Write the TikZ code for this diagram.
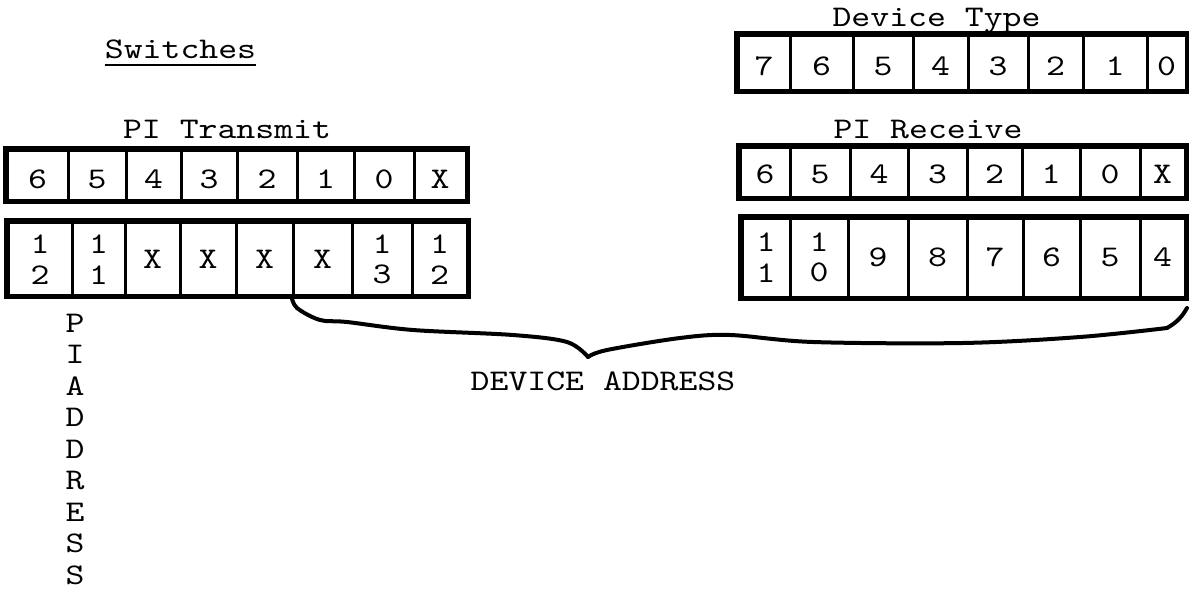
\documentclass[tikz,border=0pt]{standalone}
\usepackage{fontspec}
\newfontfamily\tw{lmmono10-regular}[Extension=.otf, FakeStretch=1.2]
\begin{document}
\begin{tikzpicture}[x=1pt,y=-1pt,
  cell/.style={draw, line width=3pt, inner sep=0pt},
  outer/.style={draw, line width=5pt, line join=miter},
  lbl/.style={inner sep=0pt, font={\tw\fontsize{30}{30}\selectfont}},
  stack/.style={inner sep=0pt, align=center, font={\tw\fontsize{30}{30.5}\selectfont}},
  brace/.style={line width=4pt, line cap=round, line join=round}]
\useasboundingbox (0,0) rectangle (1189,589);

% titles
\node[lbl, anchor=base] (sw) at (180.5,58) {Switches};
\draw[line width=2pt] ([yshift=-7pt]sw.base west) -- ([yshift=-7pt]sw.base east);
\node[lbl, anchor=base] (pit) at (227,138) {PI Transmit};
\node[lbl, anchor=base] (dt) at (936.5,27) {Device Type};
\node[lbl, anchor=base] (pir) at (928,138) {PI Receive};
\node[lbl, anchor=base] (da) at (603,390) {DEVICE ADDRESS};

% PI Transmit, upper row
\foreach \xa/\xb/\t [count=\i] in {7/68/6,68/126/5,126/181/4,181/237/3,237/297/2,297/354/1,354/414/0,414/466/X}
  {\node[cell, minimum width={(\xb-\xa)*1pt}, minimum height=50pt] (ta\i) at ({(\xa+\xb)/2},175) {};
   \node[lbl] (tal\i) at ([yshift=-4pt]ta\i.center) {\t};}
\draw[outer] (ta1.north west) rectangle (ta8.south east);

% PI Transmit, lower row
\foreach \xa/\xb/\t [count=\i] in {8/72/1\\2,72/125/1\\1,125/180/X,180/236/X,236/293/X,293/352/X,352/412/1\\3,412/467/1\\2}
  {\node[cell, minimum width={(\xb-\xa)*1pt}, minimum height=73pt] (tb\i) at ({(\xa+\xb)/2},258.5) {};
   \node[stack] (tbl\i) at ([yshift=-1pt]tb\i.center) {\t};}
\draw[outer] (tb1.north west) rectangle (tb8.south east);

% Device Type row
\foreach \xa/\xb/\t [count=\i] in {738/790/7,790/853/6,853/913/5,913/968/4,968/1028/3,1028/1083/2,1083/1147/1,1147/1186/0}
  {\node[cell, minimum width={(\xb-\xa)*1pt}, minimum height=55pt] (da\i) at ({(\xa+\xb)/2},62.5) {};
   \node[lbl] (dal\i) at ([yshift=-3.5pt]da\i.center) {\t};}
\draw[outer] (da1.north west) rectangle (da8.south east);

% PI Receive, upper row
\foreach \xa/\xb/\t [count=\i] in {740/790/6,790/850/5,850/908/4,908/967/3,967/1022/2,1022/1080/1,1080/1140/0,1140/1185/X}
  {\node[cell, minimum width={(\xb-\xa)*1pt}, minimum height=50pt] (ra\i) at ({(\xa+\xb)/2},172) {};
   \node[lbl] (ral\i) at ([yshift=-2pt]ra\i.center) {\t};}
\draw[outer] (ra1.north west) rectangle (ra8.south east);

% PI Receive, lower row
\foreach \xa/\xb/\t [count=\i] in {742/790/1\\1,790/848/1\\0,848/908/9,908/967/8,967/1023/7,1023/1080/6,1080/1140/5,1140/1185/4}
  {\node[cell, minimum width={(\xb-\xa)*1pt}, minimum height=79pt] (rb\i) at ({(\xa+\xb)/2},257.5) {};
   \node[stack] (rbl\i) at (rb\i.center) {\t};}
\draw[outer] (rb1.north west) rectangle (rb8.south east);

% vertical PI ADDRESS
\foreach \l [count=\i] in {P,I,A,D,D,R,E,S,S}
  \node[lbl, anchor=base] (pa\i) at (75,{300.5+31.5*\i}) {\l};

% brace
\coordinate (tip) at (588,357);
\coordinate (bend) at (1187,308);
\draw[brace] plot[smooth, tension=0.55] coordinates {(tb6.south west) (297,308) (320,320) (347,322) (413,330) (513,335) (567,342) (tip)};
\draw[brace] plot[smooth, tension=0.55] coordinates {(tip) (607,350) (680,338) (730,335) (813,342) (963,343) (1080,337) (1167,328)};
\draw[brace] (1167,328) to[out=30,in=-120] (bend);
\end{tikzpicture}
\end{document}
